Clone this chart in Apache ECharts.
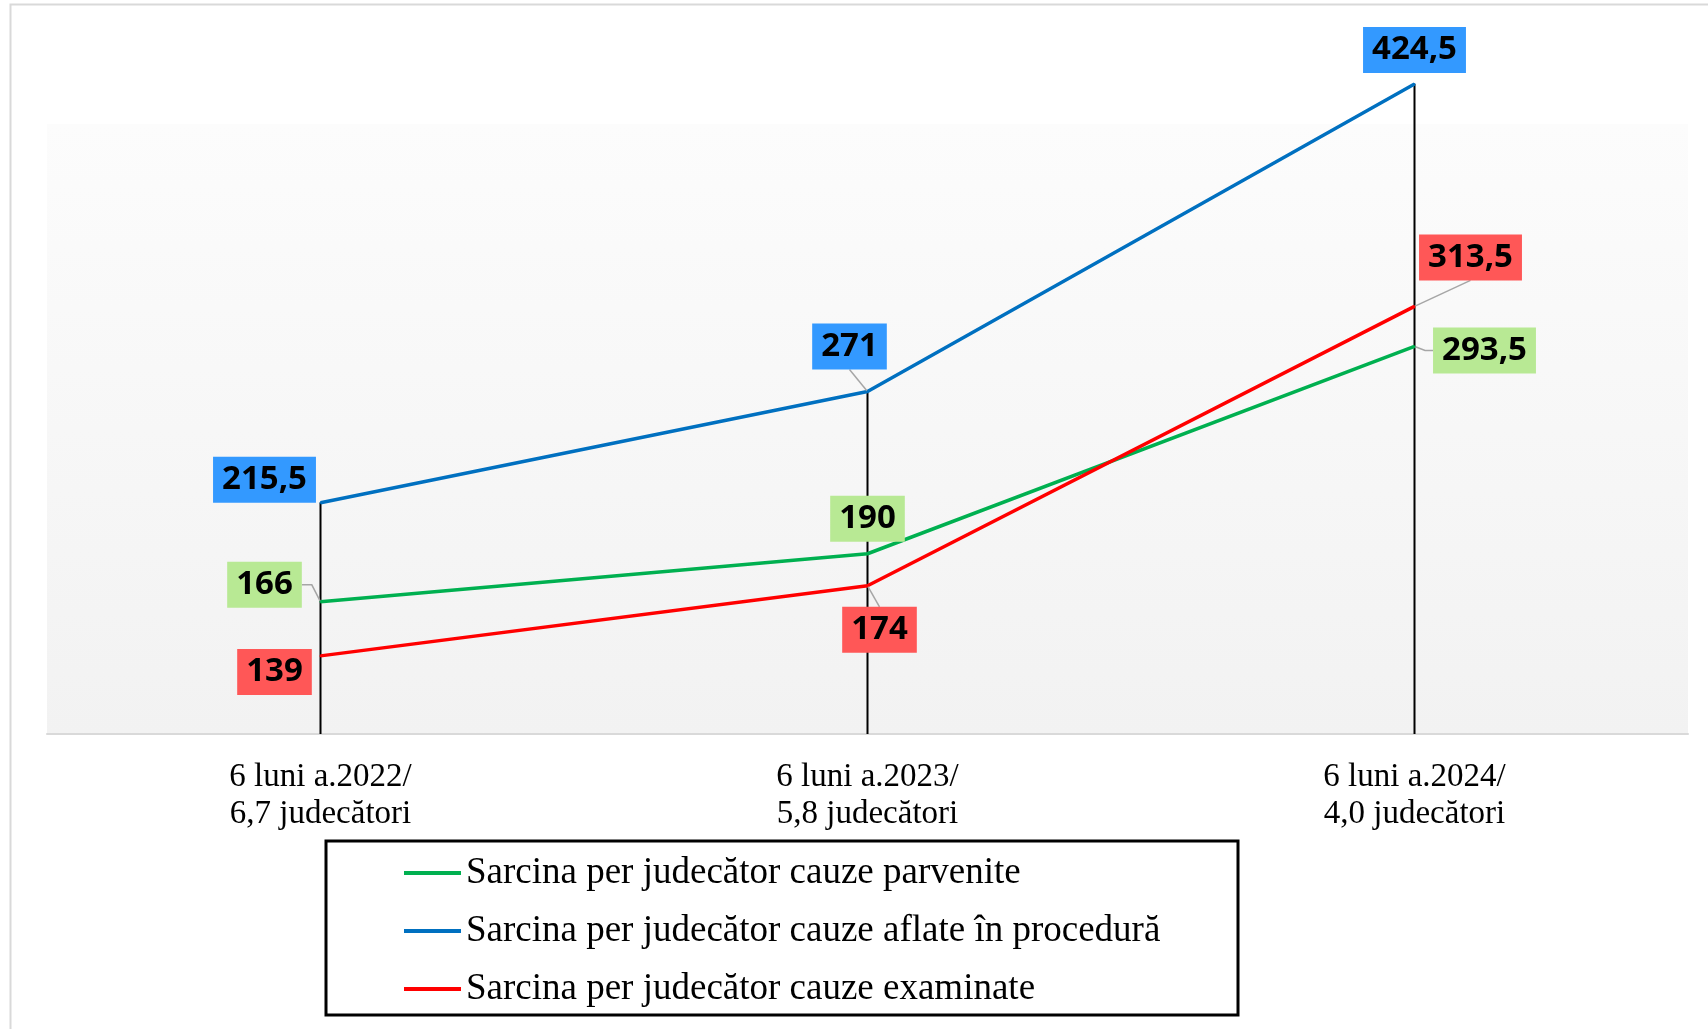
<!DOCTYPE html>
<html>
<head>
<meta charset="utf-8">
<script src="https://cdn.jsdelivr.net/npm/echarts@6/dist/echarts.min.js"></script>
<style>
html,body{margin:0;padding:0;background:#fff;}
#chart{width:1708px;height:1029px;}
</style>
</head>
<body>
<div id="chart"></div>
<script>
// ---- data ----
const categories = ['6 luni a.2022/\n6,7 judecători', '6 luni a.2023/\n5,8 judecători', '6 luni a.2024/\n4,0 judecători'];
const seriesNames = ['Sarcina per judecător cauze parvenite', 'Sarcina per judecător cauze aflate în procedură', 'Sarcina per judecător cauze examinate'];
const parvenite = [166, 190, 293.5];
const aflate = [215.5, 271, 424.5];
const examinate = [139, 174, 313.5];
const Y_MIN = 100;
const Y_MAX = 450;

// ---- styling (label offsets in px, leader line settings) ----
const lineColors = ['#00b050', '#0070c0', '#ff0000'];
const labelBg = ['#b8e994', '#3399ff', '#ff5757'];
const labelOffsets = [
  [[-56, -17], [0, -35], [70, 4]],
  [[-56, -23], [-18, -45], [0, -34]],
  [[-46, 16], [12, 44], [56, -49]]
];
// 'auto' = library leader line, 'manual' = leader to label bottom centre, '' = none
const leaderMode = [
  ['auto', '', 'auto'],
  ['', 'auto', ''],
  ['', 'auto', 'manual']
];
const leaderLen2 = [
  [10, 0, 8],
  [0, 0, 0],
  [0, 0, 0]
];
const LABEL_HALF_H = 23;

const chart = echarts.init(document.getElementById('chart'));
const allSeries = [parvenite, aflate, examinate];
const dropData = categories.map((c, i) => [i, Math.max(parvenite[i], aflate[i], examinate[i])]);

function fmt(v) { return String(v).replace('.', ','); }

const lineSeries = allSeries.map((vals, s) => ({
  name: seriesNames[s],
  type: 'line',
  z: 3,
  data: vals.map((v, i) => ({
    value: v,
    labelLine: { show: leaderMode[s][i] === 'auto', length2: leaderLen2[s][i] }
  })),
  symbol: 'circle',
  symbolSize: 2,
  showSymbol: true,
  color: lineColors[s],
  lineStyle: { width: 3.5, color: lineColors[s] },
  itemStyle: { color: lineColors[s] },
  label: {
    show: true,
    position: 'inside',
    formatter: p => fmt(p.value),
    fontFamily: 'Noto Sans',
    fontWeight: 'bold',
    fontSize: 33,
    lineHeight: 34,
    color: '#000',
    backgroundColor: labelBg[s],
    padding: [6, 9, 6, 9]
  },
  labelLine: {
    show: true,
    length2: 0,
    lineStyle: { color: '#a6a6a6', width: 1.5 }
  },
  labelLayout: function (params) {
    const o = labelOffsets[s][params.dataIndex];
    return { dx: o[0], dy: o[1] };
  }
}));

// manual leaders (point -> label bottom centre)
const manualLeaders = [];
allSeries.forEach((vals, s) => vals.forEach((v, i) => {
  if (leaderMode[s][i] === 'manual') manualLeaders.push([i, v, s]);
}));

const option = {
  animation: false,
  backgroundColor: '#ffffff',
  grid: {
    left: 47, right: 20, top: 33, bottom: 295,
    show: true, borderWidth: 0,
    backgroundColor: {
      type: 'linear', x: 0, y: 0, x2: 0, y2: 1,
      colorStops: [
        { offset: 0, color: '#ffffff' },
        { offset: 0.13, color: '#ffffff' },
        { offset: 0.1305, color: '#fcfcfc' },
        { offset: 1, color: '#f2f2f2' }
      ]
    }
  },
  xAxis: {
    type: 'category',
    data: categories,
    boundaryGap: true,
    axisLine: { show: true, lineStyle: { color: '#d9d9d9', width: 2 } },
    axisTick: { show: false },
    axisLabel: {
      margin: 25,
      fontFamily: 'Liberation Serif',
      fontSize: 33,
      lineHeight: 37,
      color: '#000',
      align: 'center'
    }
  },
  yAxis: {
    type: 'value',
    min: Y_MIN, max: Y_MAX,
    show: false,
    splitLine: { show: false }
  },
  legend: {
    orient: 'vertical',
    left: 404,
    top: 852,
    data: seriesNames,
    icon: 'rect',
    itemWidth: 57,
    itemHeight: 4,
    itemGap: 16,
    padding: 0,
    textStyle: {
      fontFamily: 'Liberation Serif',
      fontSize: 37,
      lineHeight: 42,
      color: '#000'
    }
  },
  graphic: [
    {
      type: 'rect', silent: true, z: -1,
      shape: { x: 10.5, y: 4.5, width: 1720, height: 1040 },
      style: { fill: 'none', stroke: '#d9d9d9', lineWidth: 2 }
    },
    {
      type: 'rect', silent: true,
      shape: { x: 326, y: 841, width: 912, height: 174 },
      style: { fill: 'none', stroke: '#000', lineWidth: 3 }
    }
  ],
  series: [
    {
      type: 'custom',
      z: 1,
      silent: true,
      data: dropData,
      encode: { x: 0, y: 1 },
      renderItem: function (params, api) {
        const top = api.coord([api.value(0), api.value(1)]);
        const bottom = api.coord([api.value(0), Y_MIN]);
        return {
          type: 'line',
          shape: { x1: top[0], y1: top[1], x2: bottom[0], y2: bottom[1] },
          style: { stroke: '#000', lineWidth: 2 }
        };
      }
    },
    {
      type: 'custom',
      z: 2,
      silent: true,
      data: manualLeaders,
      encode: { x: 0, y: 1 },
      renderItem: function (params, api) {
        const p = api.coord([api.value(0), api.value(1)]);
        const s = api.value(2);
        const o = labelOffsets[s][api.value(0)];
        return {
          type: 'line',
          shape: { x1: p[0], y1: p[1], x2: p[0] + o[0], y2: p[1] + o[1] + LABEL_HALF_H },
          style: { stroke: '#a6a6a6', lineWidth: 1.5 }
        };
      }
    }
  ].concat(lineSeries)
};
chart.setOption(option);
</script>
</body>
</html>
